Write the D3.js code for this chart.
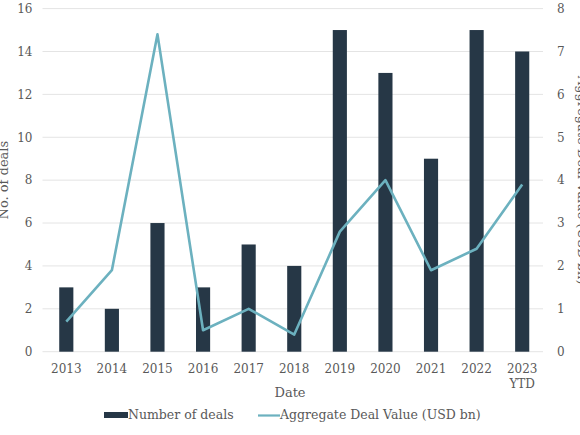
<!DOCTYPE html>
<html>
<head>
<meta charset="utf-8">
<script src="https://cdn.jsdelivr.net/npm/d3@7"></script>
<style>
  body { margin: 0; background: #fff; }
  text { font-family: "DejaVu Serif", "Liberation Serif", serif; fill: #595959; }
</style>
</head>
<body>
<svg id="chart" width="580" height="435"></svg>
<script>
const years = ["2013", "2014", "2015", "2016", "2017", "2018", "2019", "2020", "2021", "2022", "2023 YTD"];
const dealCounts = [3, 2, 6, 3, 5, 4, 15, 13, 9, 15, 14];
const dealValues = [0.7, 1.9, 7.4, 0.5, 1.0, 0.4, 2.8, 4.0, 1.9, 2.4, 3.9];
const leftTicks = [0, 2, 4, 6, 8, 10, 12, 14, 16];
const rightTicks = [0, 1, 2, 3, 4, 5, 6, 7, 8];

const svg = d3.select("#chart");
const plotLeft = 43.5, plotRight = 545, plotTop = 8.6, plotBottom = 351.7;

const x = d3.scaleBand().domain(years).range([plotLeft, plotRight]).paddingInner(0.69).paddingOuter(0.345);
const yLeft = d3.scaleLinear().domain([0, 16]).range([plotBottom, plotTop]);
const yRight = d3.scaleLinear().domain([0, 8]).range([plotBottom, plotTop]);
const cx = (d) => x(d) + x.bandwidth() / 2;

// gridlines
svg.append("g")
  .selectAll("line")
  .data(leftTicks)
  .enter()
  .append("line")
  .attr("x1", plotLeft - 1)
  .attr("x2", plotRight - 2)
  .attr("y1", (d) => yLeft(d))
  .attr("y2", (d) => yLeft(d))
  .attr("stroke", "#e4e4e4")
  .attr("stroke-width", 1);

// left axis
const leftAxis = svg.append("g")
  .attr("transform", `translate(${plotLeft - 11},0)`)
  .call(d3.axisLeft(yLeft).tickValues(leftTicks).tickSize(0).tickPadding(0));
leftAxis.select(".domain").remove();
leftAxis.selectAll("text").attr("font-size", 12).attr("fill", "#595959").attr("font-family", "DejaVu Serif");

// right axis
const rightAxis = svg.append("g")
  .attr("transform", `translate(${plotRight + 12},0)`)
  .call(d3.axisRight(yRight).tickValues(rightTicks).tickSize(0).tickPadding(0));
rightAxis.select(".domain").remove();
rightAxis.selectAll("text").attr("font-size", 12).attr("fill", "#595959").attr("font-family", "DejaVu Serif");

// x axis labels
const xLabels = svg.append("g")
  .selectAll("text")
  .data(years)
  .enter()
  .append("text")
  .attr("x", (d) => cx(d))
  .attr("y", 373)
  .attr("text-anchor", "middle")
  .attr("font-size", 12);
xLabels.each(function (d) {
  const parts = d.split(" ");
  d3.select(this)
    .selectAll("tspan")
    .data(parts)
    .enter()
    .append("tspan")
    .attr("x", cx(d))
    .attr("dy", (p, i) => (i === 0 ? 0 : 15))
    .text((p) => p);
});

// bars
svg.append("g")
  .selectAll("rect")
  .data(dealCounts)
  .enter()
  .append("rect")
  .attr("x", (d, i) => x(years[i]))
  .attr("y", (d) => yLeft(d))
  .attr("width", x.bandwidth())
  .attr("height", (d) => plotBottom - yLeft(d))
  .attr("fill", "#263746");

// line
const line = d3.line()
  .x((d, i) => cx(years[i]))
  .y((d) => yRight(d));

svg.append("path")
  .datum(dealValues)
  .attr("d", line)
  .attr("fill", "none")
  .attr("stroke", "#6cb1bf")
  .attr("stroke-width", 2.6)
  .attr("stroke-linejoin", "round");

// axis titles
svg.append("text")
  .attr("x", 290)
  .attr("y", 397)
  .attr("text-anchor", "middle")
  .attr("font-size", 13)
  .text("Date");

svg.append("text")
  .attr("transform", `translate(7.5,${(plotTop + plotBottom) / 2}) rotate(-90)`)
  .attr("text-anchor", "middle")
  .attr("font-size", 13)
  .text("No. of deals");

svg.append("text")
  .attr("transform", `translate(577.5,${(plotTop + plotBottom) / 2}) rotate(90)`)
  .attr("text-anchor", "middle")
  .attr("font-size", 13)
  .text("Aggregate Deal Value (USD bn)");

// legend
const legend = svg.append("g");
legend.append("rect")
  .attr("x", 104)
  .attr("y", 412)
  .attr("width", 24)
  .attr("height", 6)
  .attr("fill", "#263746");
legend.append("text")
  .attr("x", 128)
  .attr("y", 419)
  .attr("font-size", 12.5)
  .text("Number of deals");
legend.append("line")
  .attr("x1", 258)
  .attr("x2", 280)
  .attr("y1", 415.5)
  .attr("y2", 415.5)
  .attr("stroke", "#6cb1bf")
  .attr("stroke-width", 2.2);
legend.append("text")
  .attr("x", 280)
  .attr("y", 419)
  .attr("font-size", 12.5)
  .text("Aggregate Deal Value (USD bn)");
</script>
</body>
</html>
